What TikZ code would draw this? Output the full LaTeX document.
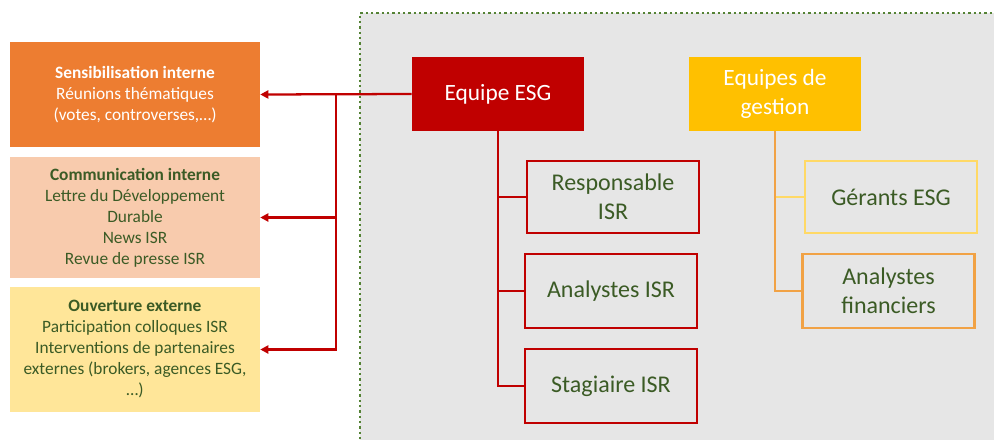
\documentclass[tikz,border=0pt]{standalone}
\usepackage{fontspec}
\setmainfont{Carlito}
\usetikzlibrary{arrows.meta,calc}
\definecolor{esgred}{HTML}{C00000}
\definecolor{gestyel}{HTML}{FFC000}
\definecolor{orangeA}{HTML}{ED7D31}
\definecolor{orangeB}{HTML}{F8CBAD}
\definecolor{yellowC}{HTML}{FFE699}
\definecolor{txtgreen}{HTML}{3B5B25}
\definecolor{bggrey}{HTML}{E6E6E6}
\definecolor{dotgreen}{HTML}{548235}
\definecolor{lightyel}{HTML}{FFD966}
\definecolor{orangeline}{HTML}{F1A245}
\tikzset{
  leftbox/.style={rectangle, inner sep=0pt, align=center, minimum width=187.5pt,
    font=\fontsize{13pt}{15.75pt}\selectfont},
  topbox/.style={rectangle, inner sep=0pt, align=center, minimum width=129pt,
    minimum height=55.5pt, text=white, font=\fontsize{17.5pt}{21.75pt}\selectfont},
  childbox/.style={rectangle, inner sep=0pt, align=center, minimum width=129pt,
    minimum height=54pt, line width=1.9pt, fill=bggrey, text=txtgreen,
    font=\fontsize{18pt}{21.5pt}\selectfont},
  redline/.style={draw=esgred, line width=1.7pt},
  arr/.style={redline, -{Triangle[length=6pt,width=6pt]}},
}
\begin{document}
\begin{tikzpicture}[x=0.75pt,y=-0.75pt]
\useasboundingbox (0,0) rectangle (994,439);
\begin{scope}
\clip (0,0) rectangle (994,439);
\fill[bggrey] (360,13) rectangle (1000,450);
\draw[dotgreen, line width=2.2pt, dash pattern=on 1.8pt off 2.2pt] (360,450) -- (360,13) -- (1000,13);
\end{scope}
% left boxes
\node[leftbox, fill=orangeA, minimum height=78.75pt, text=white] (s1) at (135,94.5)
  {\textbf{Sensibilisation interne}\\Réunions thématiques\\(votes, controverses,…)};
\node[leftbox, fill=orangeB, minimum height=90.75pt, text=txtgreen] (s2) at (135,217.5)
  {\textbf{Communication interne}\\Lettre du Développement\\Durable\\News ISR\\Revue de presse ISR};
\node[leftbox, fill=yellowC, minimum height=93.75pt, text=txtgreen] (s3) at (135,349.5)
  {\textbf{Ouverture externe}\\Participation colloques ISR\\Interventions de partenaires\\externes (brokers, agences ESG,\\…)};
% top boxes
\node[topbox, fill=esgred] (esg) at (498,94) {Equipe ESG};
\node[topbox, fill=gestyel] (gest) at (775,94) {Equipes de\\gestion};
% children
\node[childbox, draw=esgred] (resp) at (613,197) {Responsable\\ISR};
\node[childbox, draw=esgred, minimum height=55.5pt] (anisr) at (611,291) {Analystes ISR};
\node[childbox, draw=esgred, minimum height=55.5pt] (stag) at (611,386) {Stagiaire ISR};
\node[childbox, draw=lightyel] (ger) at (891,197) {Gérants ESG};
\node[childbox, draw=orangeline, minimum height=55.5pt] (anfin) at (888.5,291) {Analystes\\financiers};
% connectors left
\coordinate (jtop) at (336,95);
\draw[arr] (esg.west) -- (s1.east);
\draw[arr] (jtop) |- (s2.east);
\draw[arr] (jtop) |- (s3.east);
% ESG tree
\draw[redline] (esg.south) |- (resp.west);
\draw[redline] (esg.south) |- (anisr.west);
\draw[redline] (esg.south) |- (stag.west);
% gestion tree
\draw[draw=lightyel, line width=1.7pt] (gest.south |- ger.west) -- (ger.west);
\draw[draw=orangeline, line width=1.7pt] (gest.south) |- (anfin.west);
\end{tikzpicture}
\end{document}
